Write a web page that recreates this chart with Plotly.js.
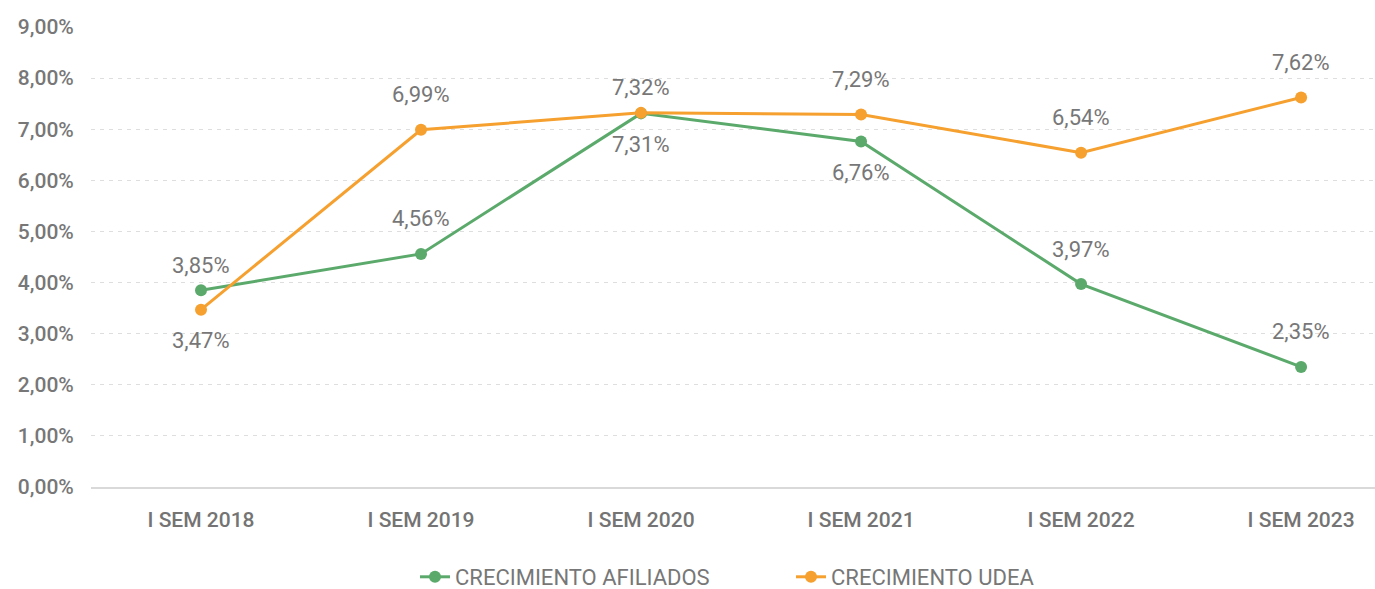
<!DOCTYPE html>
<html>
<head>
<meta charset="utf-8">
<script src="https://cdn.plot.ly/plotly-3.0.1.min.js"></script>
<style>html,body{margin:0;padding:0;background:#fff;}#chart{width:1375px;height:589px;}</style>
</head>
<body>
<div id="chart"></div>
<script>
const categories = ["I SEM 2018","I SEM 2019","I SEM 2020","I SEM 2021","I SEM 2022","I SEM 2023"];
const afiliados = [3.85, 4.56, 7.31, 6.76, 3.97, 2.35];
const udea = [3.47, 6.99, 7.32, 7.29, 6.54, 7.62];
const afiliadosLabelPos = ["aboveNear","above","below","below","above","above"];
const udeaLabelPos = ["below","above","aboveNear","above","above","above"];
const seriesNames = ["CRECIMIENTO AFILIADOS","CRECIMIENTO UDEA"];
const colors = ["#5BAA6C","#F5A02F"];

const labelShift = {above: 35, aboveNear: 25, below: -31};
function fmt(v){ return v.toFixed(2).replace('.', ',') + '%'; }

const traces = [
  {x: categories, y: afiliados, name: seriesNames[0], type:'scatter', mode:'lines+markers',
   line:{color:colors[0], width:3}, marker:{color:colors[0], size:12}},
  {x: categories, y: udea, name: seriesNames[1], type:'scatter', mode:'lines+markers',
   line:{color:colors[1], width:3}, marker:{color:colors[1], size:12}}
];

const annotations = [];
[[afiliados, afiliadosLabelPos],[udea, udeaLabelPos]].forEach(([vals,pos])=>{
  vals.forEach((v,i)=>{
    annotations.push({x: categories[i], y: v, xref:'x', yref:'y', text: fmt(v), showarrow:false,
      yshift: labelShift[pos[i]],
      font:{family:'Roboto', size:22, color:'#777777'}});
  });
});

const layout = {
  width:1375, height:589,
  margin:{l:91, r:0, t:27, b:102},
  paper_bgcolor:'#fff', plot_bgcolor:'#fff',
  separators: ',.',
  showlegend:true,
  legend:{orientation:'h', xref:'container', yref:'container', x:415/1375, xanchor:'left', y:(589-577)/589, yanchor:'middle',
    font:{family:'Roboto', size:22, color:'#777777'}, entrywidth:331, entrywidthmode:'pixels', traceorder:'normal'},
  xaxis:{type:'category', range:[-0.5, 5.336], showgrid:false, zeroline:false,
    showline:true, linecolor:'#d9d9d9', linewidth:2,
    ticks:'outside', ticklen:13, tickcolor:'rgba(0,0,0,0)',
    tickfont:{family:'Roboto', size:21, color:'#747474', weight:500}, fixedrange:true},
  yaxis:{range:[0,9], dtick:1, tickformat:'.2f', ticksuffix:'%',
    showgrid:true, gridcolor:'#dedede', griddash:'4px,5px', gridwidth:1,
    zeroline:false, showline:false,
    ticks:'outside', ticklen:12, tickcolor:'rgba(0,0,0,0)',
    tickfont:{family:'Roboto', size:21, color:'#777777', weight:500}, fixedrange:true},
  annotations: annotations
};

Plotly.newPlot('chart', traces, layout, {displayModeBar:false, staticPlot:true});
</script>
</body>
</html>
